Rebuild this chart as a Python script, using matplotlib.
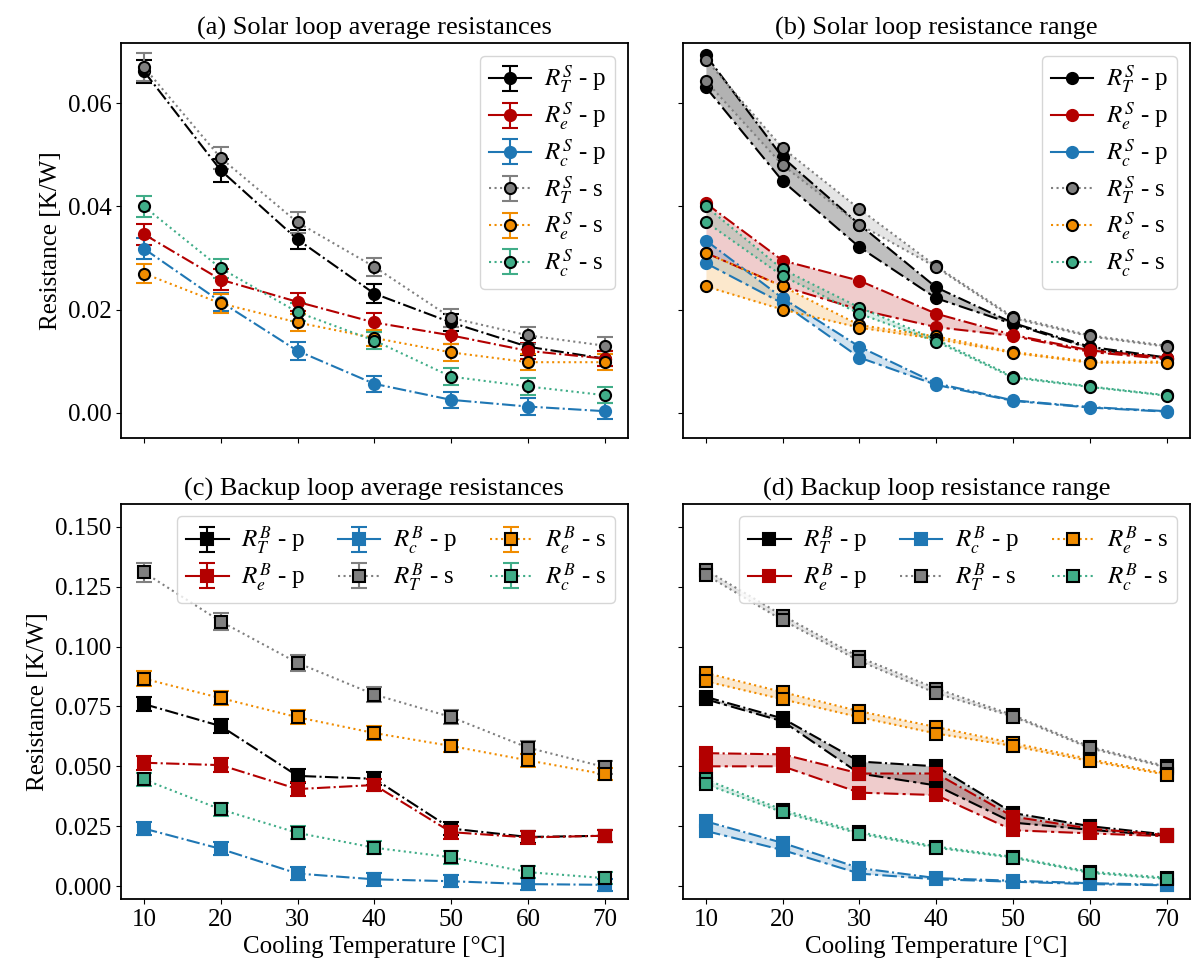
import numpy as np
import matplotlib.pyplot as plt
from matplotlib.lines import Line2D

plt.rcParams["font.family"] = "serif"
plt.rcParams["font.serif"] = ["Liberation Serif", "DejaVu Serif"]
plt.rcParams["mathtext.fontset"] = "stix"
plt.rcParams["font.size"] = 18
plt.rcParams["axes.linewidth"] = 1.3

temps = [10, 20, 30, 40, 50, 60, 70]

# solar loop, averages and error bars
sol_T_p = [0.0662, 0.0470, 0.0336, 0.0231, 0.0175, 0.0128, 0.0105]
sol_e_p = [0.0346, 0.0258, 0.0215, 0.0175, 0.0150, 0.0120, 0.0105]
sol_c_p = [0.0318, 0.0215, 0.0120, 0.0056, 0.0025, 0.0012, 0.0003]
sol_T_s = [0.0670, 0.0494, 0.0369, 0.0283, 0.0184, 0.0150, 0.0130]
sol_e_s = [0.0270, 0.0212, 0.0175, 0.0145, 0.0117, 0.0098, 0.0098]
sol_c_s = [0.0400, 0.0280, 0.0195, 0.0140, 0.0070, 0.0051, 0.0034]
sol_T_p_err = [0.0023, 0.0022, 0.0019, 0.0018, 0.0016, 0.0016, 0.0014]
sol_e_p_err = [0.0020, 0.0020, 0.0018, 0.0018, 0.0016, 0.0015, 0.0014]
sol_c_p_err = [0.0020, 0.0018, 0.0017, 0.0016, 0.0016, 0.0016, 0.0016]
sol_T_s_err = [0.0027, 0.0021, 0.0020, 0.0018, 0.0017, 0.0016, 0.0016]
sol_e_s_err = [0.0018, 0.0018, 0.0017, 0.0016, 0.0016, 0.0016, 0.0015]
sol_c_s_err = [0.0020, 0.0019, 0.0018, 0.0017, 0.0017, 0.0016, 0.0016]

# solar loop, min / max
sol_T_p_max = [0.0693, 0.0495, 0.0365, 0.0243, 0.0174, 0.0128, 0.0107]
sol_T_p_min = [0.0631, 0.0449, 0.0321, 0.0222, 0.0172, 0.0125, 0.0104]
sol_e_p_max = [0.0406, 0.0295, 0.0256, 0.0192, 0.0151, 0.0121, 0.0107]
sol_e_p_min = [0.0310, 0.0245, 0.0200, 0.0166, 0.0149, 0.0118, 0.0104]
sol_c_p_max = [0.0334, 0.0222, 0.0128, 0.0057, 0.0024, 0.0011, 0.0003]
sol_c_p_min = [0.0290, 0.0212, 0.0107, 0.0054, 0.0023, 0.0010, 0.0002]
sol_T_s_max = [0.0685, 0.0513, 0.0395, 0.0284, 0.0186, 0.0150, 0.0130]
sol_T_s_min = [0.0643, 0.0480, 0.0365, 0.0282, 0.0183, 0.0148, 0.0128]
sol_e_s_max = [0.0310, 0.0245, 0.0170, 0.0148, 0.0118, 0.0099, 0.0099]
sol_e_s_min = [0.0245, 0.0200, 0.0165, 0.0143, 0.0116, 0.0097, 0.0097]
sol_c_s_max = [0.0400, 0.0278, 0.0204, 0.0142, 0.0070, 0.0051, 0.0034]
sol_c_s_min = [0.0370, 0.0265, 0.0192, 0.0138, 0.0068, 0.0050, 0.0033]

# backup loop, averages and error bars
bak_T_p = [0.0760, 0.0668, 0.0460, 0.0448, 0.0240, 0.0205, 0.0210]
bak_e_p = [0.0515, 0.0505, 0.0405, 0.0422, 0.0225, 0.0203, 0.0210]
bak_c_p = [0.0240, 0.0155, 0.0052, 0.0028, 0.0020, 0.0008, 0.0005]
bak_T_s = [0.1310, 0.1105, 0.0932, 0.0800, 0.0706, 0.0578, 0.0497]
bak_e_s = [0.0866, 0.0785, 0.0705, 0.0639, 0.0585, 0.0525, 0.0467]
bak_c_s = [0.0445, 0.0320, 0.0222, 0.0160, 0.0120, 0.0058, 0.0033]
bak_T_p_err = [0.0030, 0.0030, 0.0028, 0.0027, 0.0027, 0.0026, 0.0026]
bak_e_p_err = [0.0030, 0.0029, 0.0028, 0.0027, 0.0027, 0.0026, 0.0026]
bak_c_p_err = [0.0028, 0.0027, 0.0026, 0.0026, 0.0026, 0.0026, 0.0026]
bak_T_s_err = [0.0040, 0.0036, 0.0032, 0.0030, 0.0029, 0.0028, 0.0027]
bak_e_s_err = [0.0032, 0.0030, 0.0029, 0.0028, 0.0027, 0.0027, 0.0026]
bak_c_s_err = [0.0029, 0.0028, 0.0027, 0.0026, 0.0026, 0.0026, 0.0026]

# backup loop, min / max
bak_T_p_max = [0.0790, 0.0700, 0.0520, 0.0500, 0.0305, 0.0250, 0.0215]
bak_T_p_min = [0.0780, 0.0688, 0.0470, 0.0420, 0.0265, 0.0235, 0.0210]
bak_e_p_max = [0.0555, 0.0550, 0.0470, 0.0470, 0.0290, 0.0240, 0.0213]
bak_e_p_min = [0.0500, 0.0500, 0.0390, 0.0380, 0.0233, 0.0220, 0.0208]
bak_c_p_max = [0.0270, 0.0180, 0.0075, 0.0033, 0.0022, 0.0012, 0.0005]
bak_c_p_min = [0.0230, 0.0150, 0.0052, 0.0028, 0.0018, 0.0008, 0.0003]
bak_T_s_max = [0.1320, 0.1130, 0.0955, 0.0825, 0.0714, 0.0582, 0.0500]
bak_T_s_min = [0.1300, 0.1110, 0.0940, 0.0805, 0.0708, 0.0576, 0.0495]
bak_e_s_max = [0.0890, 0.0810, 0.0730, 0.0664, 0.0597, 0.0530, 0.0470]
bak_e_s_min = [0.0855, 0.0780, 0.0705, 0.0637, 0.0585, 0.0522, 0.0465]
bak_c_s_max = [0.0445, 0.0318, 0.0225, 0.0165, 0.0122, 0.0060, 0.0035]
bak_c_s_min = [0.0425, 0.0308, 0.0218, 0.0160, 0.0118, 0.0055, 0.0030]

BLACK = "#000000"
RED = "#b30000"
BLUE = "#1f77b4"
GRAY = "#808080"
ORANGE = "#f08c00"
TEAL = "#40ad88"

LEG = dict(labelspacing=0.18, handlelength=1.7, handletextpad=0.5,
           columnspacing=1.3, borderpad=0.35)


def style(kind, color):
    if kind == "p":
        return dict(ls="-.", mec=color)
    return dict(ls=":", mec="k")


def draw_avg(ax, series, marker):
    for label, vals, errs, color, kind in series:
        st = style(kind, color)
        ax.errorbar(temps, vals, yerr=errs, color=color, ls=st["ls"], lw=1.5,
                    marker=marker, ms=8, mfc=color, mec=st["mec"], mew=1.5,
                    capsize=6, elinewidth=1.5, capthick=1.5)
    # legend proxies: p series shown with a solid line
    handles = []
    for label, vals, errs, color, kind in series:
        st = style(kind, color)
        h = ax.errorbar([np.nan], [np.nan], yerr=[np.nan], color=color,
                        ls="-" if kind == "p" else ":", lw=1.5,
                        marker=marker, ms=8, mfc=color, mec=st["mec"], mew=1.5,
                        capsize=6, elinewidth=1.5, capthick=1.5, label=label)
        handles.append(h)
    return handles


def draw_range(ax, series, marker):
    handles = []
    for label, lo, hi, color, kind in series:
        st = style(kind, color)
        alpha = 0.25 if color == BLACK else 0.2
        ax.fill_between(temps, lo, hi, color=color, alpha=alpha, lw=0)
        lo_ls = (0, (7, 2, 1.5, 2)) if kind == "p" else ":"
        ax.plot(temps, hi, color=color, ls=st["ls"], lw=1.5, marker=marker,
                ms=8, mfc=color, mec=st["mec"], mew=1.5)
        ax.plot(temps, lo, color=color, ls=lo_ls, lw=1.5, marker=marker,
                ms=8, mfc=color, mec=st["mec"], mew=1.5)
        handles.append(Line2D([], [], color=color, ls="-" if kind == "p" else ":",
                              lw=1.5, marker=marker, ms=8, mfc=color,
                              mec=st["mec"], mew=1.5, label=label))
    return handles


fig, axes = plt.subplots(2, 2, figsize=(11.92, 9.71), dpi=100, sharex=True, sharey="row")
fig.subplots_adjust(left=0.1015, right=0.998, top=0.9557, bottom=0.0742,
                    wspace=0.109, hspace=0.167)

sol_avg = [
    (r"$R_T^S$ - p", sol_T_p, sol_T_p_err, BLACK, "p"),
    (r"$R_e^S$ - p", sol_e_p, sol_e_p_err, RED, "p"),
    (r"$R_c^S$ - p", sol_c_p, sol_c_p_err, BLUE, "p"),
    (r"$R_T^S$ - s", sol_T_s, sol_T_s_err, GRAY, "s"),
    (r"$R_e^S$ - s", sol_e_s, sol_e_s_err, ORANGE, "s"),
    (r"$R_c^S$ - s", sol_c_s, sol_c_s_err, TEAL, "s"),
]
sol_rng = [
    (r"$R_T^S$ - p", sol_T_p_min, sol_T_p_max, BLACK, "p"),
    (r"$R_e^S$ - p", sol_e_p_min, sol_e_p_max, RED, "p"),
    (r"$R_c^S$ - p", sol_c_p_min, sol_c_p_max, BLUE, "p"),
    (r"$R_T^S$ - s", sol_T_s_min, sol_T_s_max, GRAY, "s"),
    (r"$R_e^S$ - s", sol_e_s_min, sol_e_s_max, ORANGE, "s"),
    (r"$R_c^S$ - s", sol_c_s_min, sol_c_s_max, TEAL, "s"),
]
bak_avg = [
    (r"$R_T^B$ - p", bak_T_p, bak_T_p_err, BLACK, "p"),
    (r"$R_e^B$ - p", bak_e_p, bak_e_p_err, RED, "p"),
    (r"$R_c^B$ - p", bak_c_p, bak_c_p_err, BLUE, "p"),
    (r"$R_T^B$ - s", bak_T_s, bak_T_s_err, GRAY, "s"),
    (r"$R_e^B$ - s", bak_e_s, bak_e_s_err, ORANGE, "s"),
    (r"$R_c^B$ - s", bak_c_s, bak_c_s_err, TEAL, "s"),
]
bak_rng = [
    (r"$R_T^B$ - p", bak_T_p_min, bak_T_p_max, BLACK, "p"),
    (r"$R_e^B$ - p", bak_e_p_min, bak_e_p_max, RED, "p"),
    (r"$R_c^B$ - p", bak_c_p_min, bak_c_p_max, BLUE, "p"),
    (r"$R_T^B$ - s", bak_T_s_min, bak_T_s_max, GRAY, "s"),
    (r"$R_e^B$ - s", bak_e_s_min, bak_e_s_max, ORANGE, "s"),
    (r"$R_c^B$ - s", bak_c_s_min, bak_c_s_max, TEAL, "s"),
]

ax = axes[0, 0]
h = draw_avg(ax, sol_avg, "o")
ax.legend(handles=h, loc="upper right", **LEG)
ax.set_title("(a) Solar loop average resistances", fontsize=19)
ax.set_ylabel("Resistance [K/W]")

ax = axes[0, 1]
h = draw_range(ax, sol_rng, "o")
ax.legend(handles=h, loc="upper right", **LEG)
ax.set_title("(b) Solar loop resistance range", fontsize=19)

ax = axes[1, 0]
h = draw_avg(ax, bak_avg, "s")
ax.legend(handles=h, loc="upper right", ncol=3, **LEG)
ax.set_title("(c) Backup loop average resistances", fontsize=19)
ax.set_ylabel("Resistance [K/W]")
ax.set_xlabel("Cooling Temperature [°C]")

ax = axes[1, 1]
h = draw_range(ax, bak_rng, "s")
ax.legend(handles=h, loc="upper right", ncol=3, **LEG)
ax.set_title("(d) Backup loop resistance range", fontsize=19)
ax.set_xlabel("Cooling Temperature [°C]")

axes[0, 0].set_xticks(temps)
axes[0, 0].set_xlim(7, 73)
axes[0, 0].set_ylim(-0.0049, 0.0717)
axes[0, 0].set_yticks([0.00, 0.02, 0.04, 0.06])
axes[0, 0].set_yticklabels(["0.00", "0.02", "0.04", "0.06"])
axes[1, 0].set_ylim(-0.0054, 0.1596)
axes[1, 0].set_yticks([0.0, 0.025, 0.05, 0.075, 0.1, 0.125, 0.15])
axes[1, 0].set_yticklabels(["0.000", "0.025", "0.050", "0.075", "0.100", "0.125", "0.150"])

fig.savefig("out.png", dpi=100)
